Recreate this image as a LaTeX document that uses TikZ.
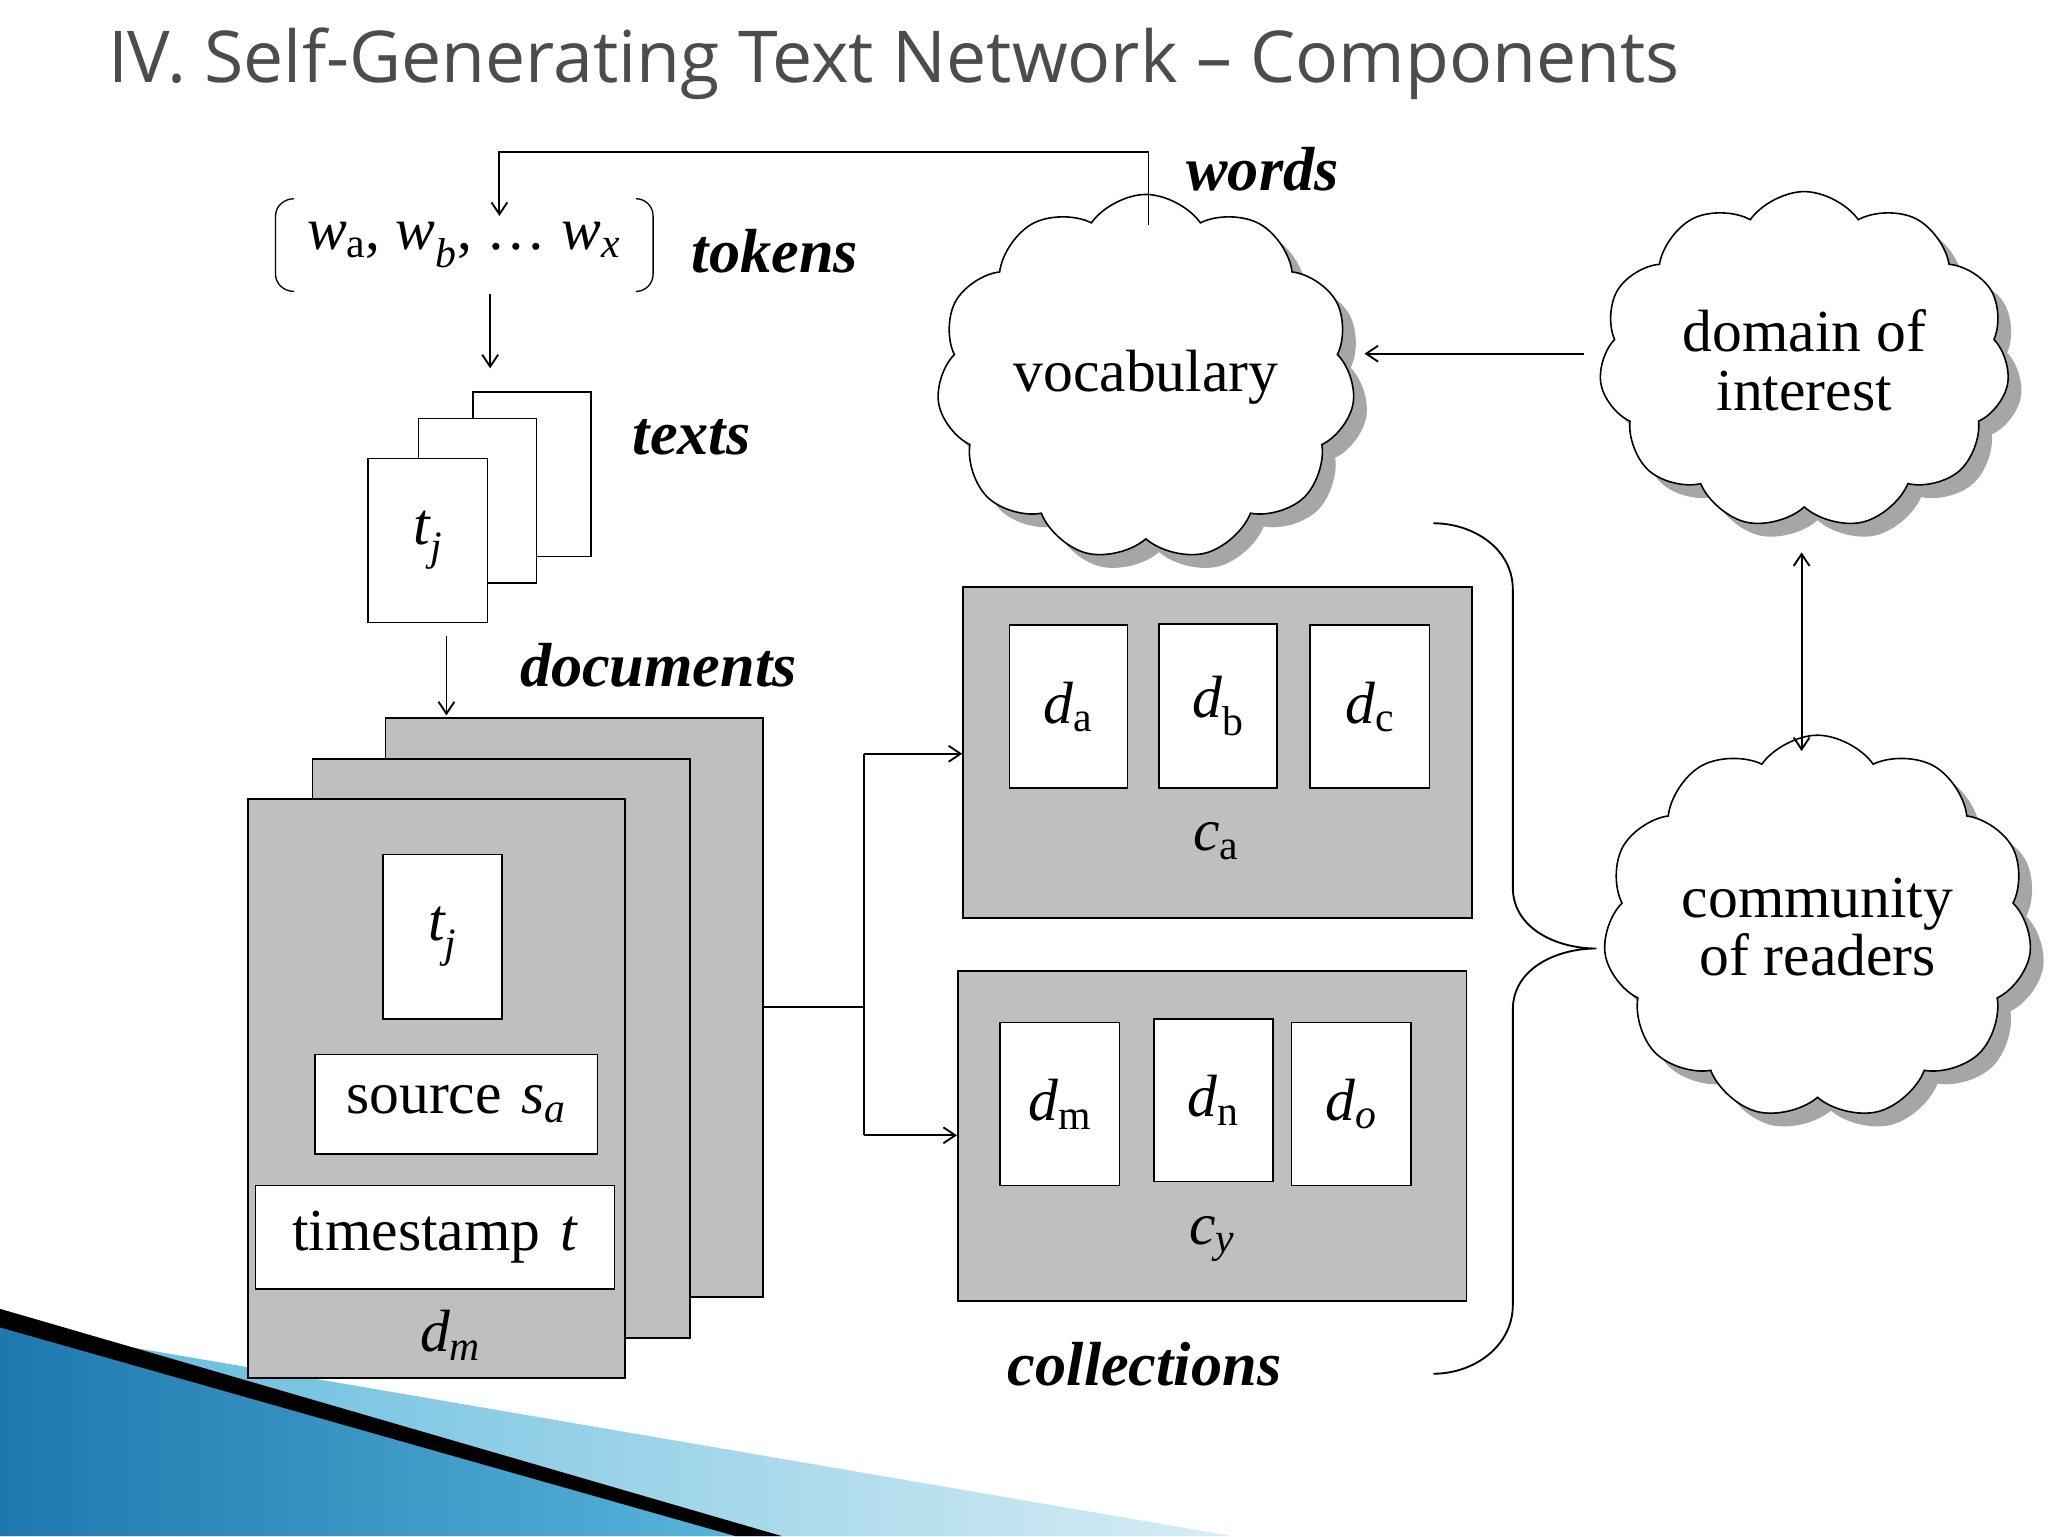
\documentclass[tikz,border=0pt]{standalone}
\usepackage{fontspec}
\setmainfont{Liberation Serif}
\newfontfamily\titlefont{Open Sans}
\usetikzlibrary{shapes.symbols,arrows.meta,shadows}
\newcommand{\mysub}[1]{\textsubscript{#1}}
\definecolor{wedgeA}{HTML}{1E78AE}
\definecolor{wedgeB}{HTML}{5BB8DC}
\definecolor{wedgeC}{HTML}{D8EDF5}
\begin{document}
\begin{tikzpicture}[x=1pt,y=-1pt,
  every node/.style={font=\fontsize{45}{44}\selectfont},
  lab/.style={font=\fontsize{47}{48}\selectfont\bfseries\itshape},
  box/.style={draw,line width=1.2pt,fill=white},
  gbox/.style={draw,line width=1.2pt,fill=gray!50},
  ln/.style={line width=1.4pt},
  arr/.style={line width=1.4pt,-{Straight Barb[length=9pt,width=12pt]}},
  cl/.style={cloud,cloud puffs=11,cloud puff arc=110,aspect=1.2,draw,line width=1.2pt,fill=white,align=center,
    drop shadow={shadow xshift=10pt,shadow yshift=-10pt,fill=gray!70,opacity=1}}]
\useasboundingbox (0,0) rectangle (1546,1159.5);
% background wedge
\shade[left color=wedgeB,right color=wedgeC] (0,1000)--(930,1159.5)--(0,1159.5)--cycle;
\shade[left color=wedgeA,right color=wedgeB] (0,1000)--(590,1159.5)--(0,1159.5)--cycle;
\fill[black] (0,988)--(590,1159.5)--(555,1159.5)--(0,1002)--cycle;
% title
\node[font=\titlefont\fontsize{54}{56}\selectfont,text=black!70,anchor=west,
  preaction={}] (title) at (78,48) {IV. Self-Generating Text Network – Components};
% clouds
\node[cl,minimum width=290pt,minimum height=230pt] (voc) at (865,285) {vocabulary};
\node[cl,minimum width=310pt,minimum height=240pt] (dom) at (1362,272) {domain of\\interest};
\node[cl,minimum width=310pt,minimum height=290pt] (com) at (1372,700) {community\\of readers};
% tokens
\node (tok) at (350,185) {\textit{w}\mysub{a}, \textit{w\mysub{b}}, … \textit{w\mysub{x}}};
\draw[line width=1pt] (222,150) to[out=180,in=90] (208,163) -- (208,207) to[out=-90,in=180] (222,220);
\draw[line width=1pt] (480,150) to[out=0,in=90] (493,163) -- (493,207) to[out=-90,in=0] (480,220);
\node[lab] at (585,190) {tokens};
\node[lab] at (953,128) {words};
\coordinate (vtop) at (867,170);
\draw[arr] (vtop) -- (867,115) -- (377,115) -- (377,163);
\draw[arr] (370,222) -- (370,278);
% texts
\node[box,minimum width=89pt,minimum height=124pt] (t3) at (401.5,358) {};
\node[box,minimum width=89pt,minimum height=124pt] (t2) at (360.5,378) {};
\node[box,minimum width=90pt,minimum height=124pt] (t1) at (323,408) {\textit{t\mysub{j}}};
\node[lab] at (522,330) {texts};
\draw[arr] (337,480) -- (337,540);
\node[lab] at (497,502) {documents};
% documents
\node[gbox,minimum width=285pt,minimum height=437pt] (d3) at (433.5,760.5) {};
\node[gbox,minimum width=285pt,minimum height=437pt] (d2) at (378.5,791.5) {};
\node[gbox,minimum width=285pt,minimum height=437pt] (d1) at (329.5,821.5) {};
\node[box,minimum width=90pt,minimum height=124pt] (tj) at (334,707) {\textit{t\mysub{j}}};
\node[box,minimum width=213pt,minimum height=75pt,text width=205pt,align=center] (src) at (344.5,833.5) {source \textit{s\mysub{a}}};
\node[box,minimum width=271pt,minimum height=78pt,text width=263pt,align=center] (ts) at (328.5,934) {timestamp \textit{t}};
\node at (340,1008) {\textit{d\mysub{m}}};
% connectors
\coordinate (j) at (652,760);
\draw[ln] (576,760) -- (j);
\coordinate (ja) at (652,569);
\coordinate (jy) at (652,857);
\draw[ln] (ja) -- (jy);
% collections
\node[gbox,minimum width=384pt,minimum height=250pt] (ca) at (919,568) {};
\node[gbox,minimum width=384pt,minimum height=249pt] (cy) at (915,857.5) {};
\draw[arr] (ja) -- (ca.west |- ja);
\draw[arr] (jy) -- (cy.west |- jy);
\node[box,minimum width=89pt,minimum height=123pt] at (806.5,533.5) {\textit{d}\mysub{a}};
\node[box,minimum width=89pt,minimum height=124pt] at (919.5,533) {\textit{d}\mysub{b}};
\node[box,minimum width=90pt,minimum height=123pt] at (1034,533.5) {\textit{d}\mysub{c}};
\node at (918,635) {\textit{c}\mysub{a}};
\node[box,minimum width=90pt,minimum height=123pt] at (800,833.5) {\textit{d}\mysub{m}};
\node[box,minimum width=90pt,minimum height=123pt] at (916,830.5) {\textit{d}\mysub{n}};
\node[box,minimum width=90pt,minimum height=123pt] at (1020,833.5) {\textit{d\mysub{o}}};
\node at (915,935) {\textit{c\mysub{y}}};
\node[lab] at (864,1030) {collections};
% brace
\draw[line width=1.4pt] (1082,395) to[out=0,in=90] (1142,445) -- (1142,670) to[out=-90,in=180] (1205,716)
  to[out=180,in=90] (1142,762) -- (1142,985) to[out=-90,in=0] (1082,1037);
% arrows between clouds
\draw[arr] (1196,267) -- (1030,267);
\draw[line width=1.4pt,{Straight Barb[length=9pt,width=12pt]}-{Straight Barb[length=9pt,width=12pt]}] (1360,417) -- (1360,567);
\end{tikzpicture}
\end{document}
